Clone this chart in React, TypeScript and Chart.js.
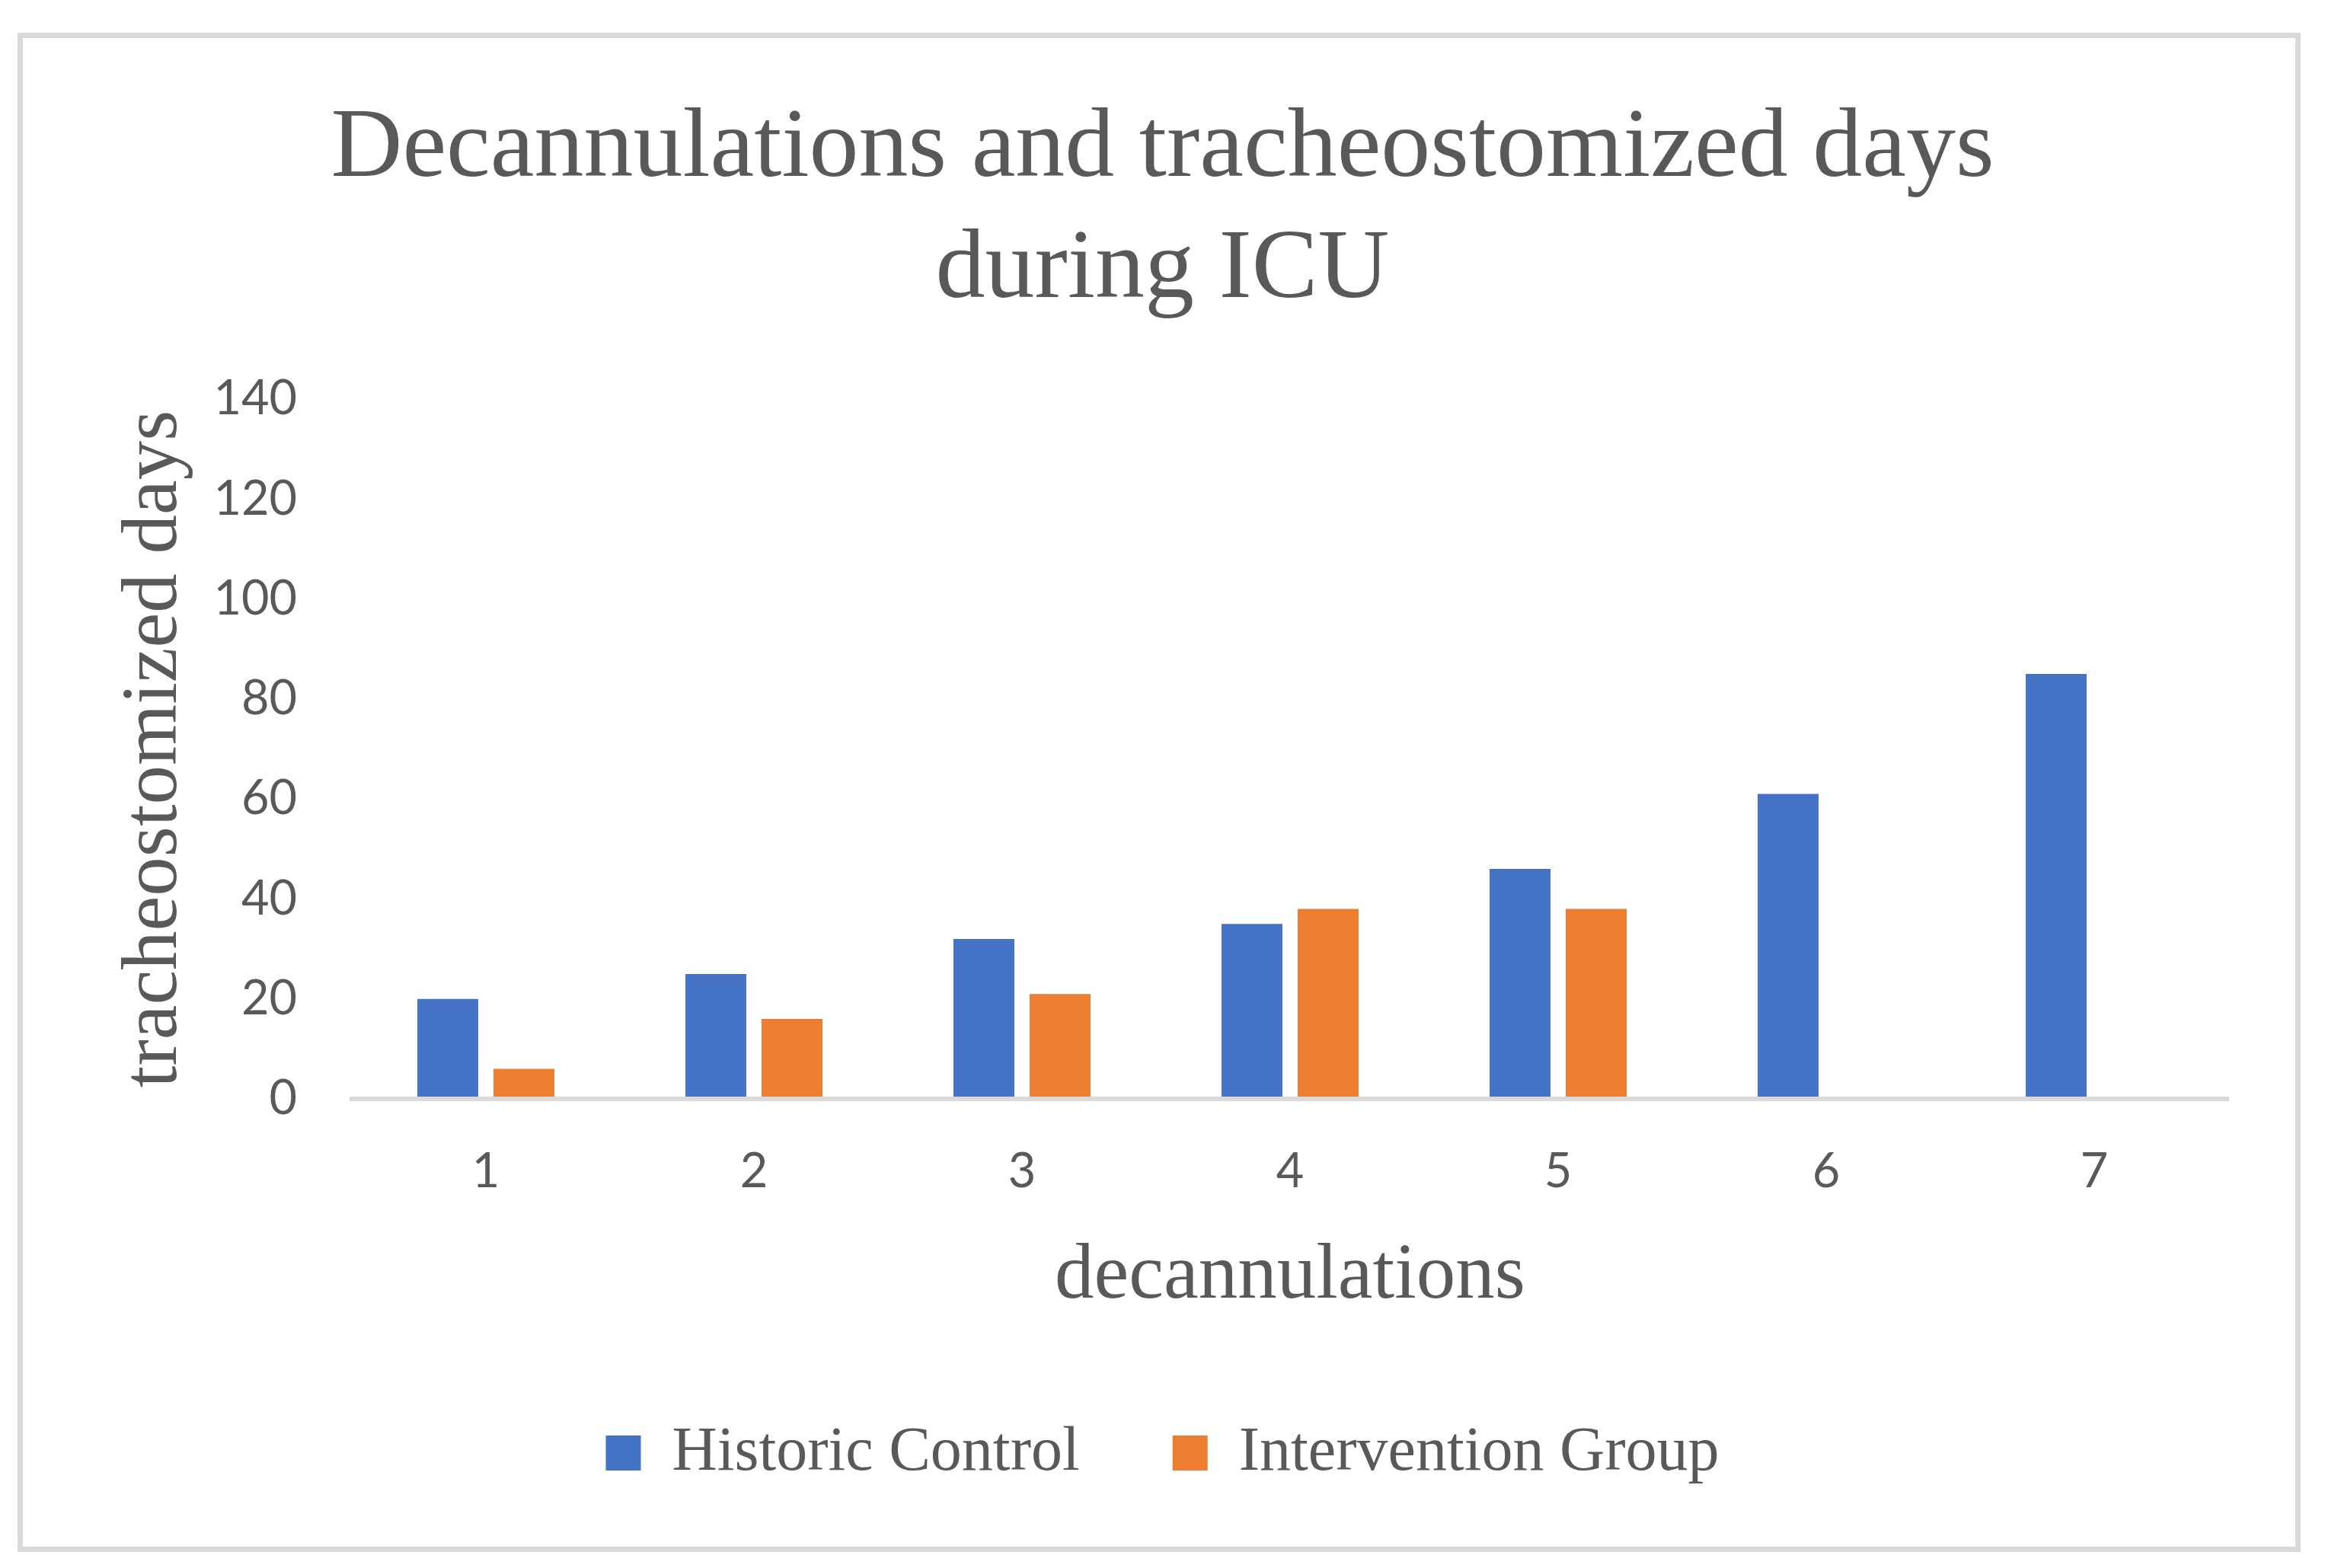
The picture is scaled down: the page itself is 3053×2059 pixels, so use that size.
import React, { useEffect, useRef } from "react";
import { Chart, registerables } from "chart.js";

Chart.register(...registerables);

// ---- data ----
const categories = ["1", "2", "3", "4", "5", "6", "7"];
const historicControl = [20, 25, 32, 35, 46, 61, 85];
const interventionGroup: (number | null)[] = [6, 16, 21, 38, 38, null, null];
const yTicks = [0, 20, 40, 60, 80, 100, 120, 140];
const seriesNames = ["Historic Control", "Intervention Group"];
const titleLines = ["Decannulations and tracheostomized days", "during ICU"];
const xAxisTitle = "decannulations";
const yAxisTitle = "tracheostomized days";

// ---- styles ----
const BLUE = "#4472C4";
const ORANGE = "#ED7D31";
const TEXT = "#595959";
const LINE = "#D9D9D9";
const SERIF = "'Liberation Serif', 'Times New Roman', serif";
const SANS = "Lato, 'Open Sans', sans-serif";

const W = 3053;
const H = 2059;

const borderPlugin = {
  id: "outerBorder",
  beforeDraw(chart: any) {
    const { ctx } = chart;
    ctx.save();
    ctx.fillStyle = "#ffffff";
    ctx.fillRect(0, 0, chart.width, chart.height);
    ctx.strokeStyle = LINE;
    ctx.lineWidth = 7;
    ctx.strokeRect(26.5, 46.5, 2991, 1988);
    ctx.restore();
  },
};

export default function App() {
  const ref = useRef<HTMLCanvasElement | null>(null);

  useEffect(() => {
    if (!ref.current) return;
    const chart = new Chart(ref.current, {
      type: "bar",
      data: {
        labels: categories,
        datasets: [
          {
            label: seriesNames[0],
            data: historicControl,
            backgroundColor: BLUE,
            borderWidth: 0,
            categoryPercentage: 0.568,
            barPercentage: 0.8,
          },
          {
            label: seriesNames[1],
            data: interventionGroup,
            backgroundColor: ORANGE,
            borderWidth: 0,
            categoryPercentage: 0.568,
            barPercentage: 0.8,
          },
        ],
      },
      options: {
        animation: false,
        responsive: false,
        devicePixelRatio: 1,
        layout: { padding: { left: 0, right: 0, top: 0, bottom: 100 } },
        plugins: {
          tooltip: { enabled: false },
          title: {
            display: true,
            text: titleLines,
            color: TEXT,
            font: { family: SERIF, size: 130, weight: "normal", lineHeight: 1.223 },
            padding: { top: 117, bottom: 89 },
          },
          legend: {
            display: true,
            position: "bottom",
            labels: {
              color: TEXT,
              font: { family: SERIF, size: 82, weight: "normal" },
              boxWidth: 46,
              boxHeight: 46,
              padding: 122,
            },
          },
        },
        scales: {
          x: {
            grid: { display: false, drawTicks: false },
            border: { display: true, color: LINE, width: 6, z: 1 },
            ticks: {
              color: TEXT,
              font: { family: SANS, size: 63, lineHeight: 1.2 },
              padding: 58,
              maxRotation: 0,
              autoSkip: false,
            },
            title: {
              display: true,
              text: xAxisTitle,
              color: TEXT,
              font: { family: SERIF, size: 103, lineHeight: 1.2 },
              padding: { top: 0, bottom: 6 },
            },
            afterFit: (s: any) => {
              s.height = 302;
            },
          },
          y: {
            min: yTicks[0],
            max: yTicks[yTicks.length - 1],
            grid: { display: false, drawTicks: false },
            border: { display: false },
            ticks: {
              stepSize: yTicks[1] - yTicks[0],
              color: TEXT,
              font: { family: SANS, size: 63, lineHeight: 1.2 },
              padding: 72,
            },
            title: {
              display: true,
              text: yAxisTitle,
              color: TEXT,
              font: { family: SERIF, size: 103, lineHeight: 1.2 },
              padding: { top: 142, bottom: 0 },
            },
            afterFit: (s: any) => {
              s.width = 462;
            },
          },
          yRight: {
            type: "linear",
            position: "right",
            display: true,
            grid: { display: false, drawTicks: false },
            border: { display: false },
            ticks: { display: false },
            afterFit: (s: any) => {
              s.width = 127;
            },
          },
        },
      },
      plugins: [borderPlugin],
    } as any);
    return () => chart.destroy();
  }, []);

  return (
    <div style={{ position: "fixed", left: 0, top: 0, width: W, height: H, background: "#fff" }}>
      <canvas ref={ref} width={W} height={H} style={{ width: W, height: H, display: "block" }} />
    </div>
  );
}
